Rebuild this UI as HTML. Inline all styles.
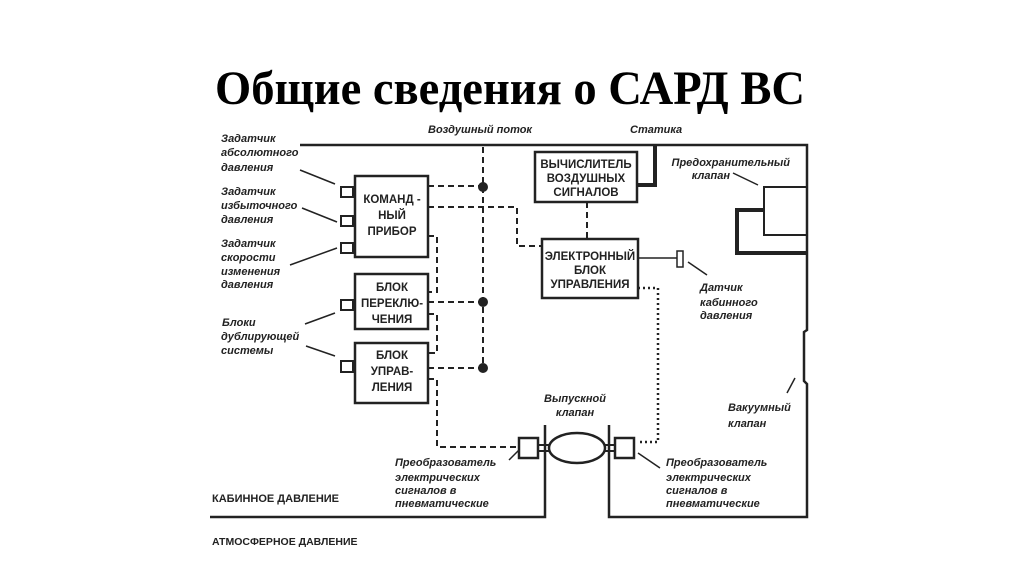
<!DOCTYPE html>
<html><head><meta charset="utf-8"><style>
html,body{margin:0;padding:0;background:#fff;}
svg{display:block;}
.t{font-family:"Liberation Sans",sans-serif;font-weight:bold;font-style:italic;font-size:11px;fill:#222;}
.b{font-family:"Liberation Sans",sans-serif;font-weight:bold;font-size:11.5px;fill:#222;}
</style></head><body>
<svg width="1024" height="574" viewBox="0 0 1024 574" xmlns="http://www.w3.org/2000/svg">
<text x="510" y="104" text-anchor="middle" font-family="Liberation Serif, serif" font-weight="bold" font-size="48" textLength="590" lengthAdjust="spacingAndGlyphs">Общие сведения о САРД ВС</text>
<g stroke="#222" fill="none">
<!-- main lines -->
<polyline points="300,145 807,145 807,330 804,332 804,381 807,384 807,517 609,517 609,425" stroke-width="2.5"/>
<polyline points="210,517 545,517 545,425" stroke-width="2.5"/>
<polyline points="655,145 655,185 637,185" stroke-width="4"/>
<!-- safety valve -->
<rect x="764" y="187" width="43" height="48" stroke-width="2"/>
<polyline points="807,253 737,253 737,210 764,210" stroke-width="4"/>
<!-- boxes -->
<rect x="355" y="176" width="73" height="81" stroke-width="2.5"/>
<rect x="355" y="274" width="73" height="55" stroke-width="2.5"/>
<rect x="355" y="343" width="73" height="60" stroke-width="2.5"/>
<rect x="535" y="152" width="102" height="50" stroke-width="2.5"/>
<rect x="542" y="239" width="96" height="59" stroke-width="2.5"/>
<!-- ports -->
<rect x="341" y="187" width="12" height="10" stroke-width="2"/>
<rect x="341" y="216" width="12" height="10" stroke-width="2"/>
<rect x="341" y="243" width="12" height="10" stroke-width="2"/>
<rect x="341" y="300" width="12" height="10" stroke-width="2"/>
<rect x="341" y="361" width="12" height="11" stroke-width="2"/>
<line x1="353" y1="192" x2="355" y2="192" stroke-width="2"/>
<!-- sensor -->
<line x1="638" y1="258" x2="677" y2="258" stroke-width="1.5"/>
<rect x="677" y="251" width="6" height="16" stroke-width="1.5"/>
<!-- leaders -->
<g stroke-width="1.5">
<line x1="300" y1="170" x2="335" y2="184"/>
<line x1="302" y1="208" x2="337" y2="222"/>
<line x1="290" y1="265" x2="337" y2="248"/>
<line x1="305" y1="324" x2="335" y2="313"/>
<line x1="306" y1="346" x2="335" y2="356"/>
<line x1="733" y1="173" x2="758" y2="185"/>
<line x1="688" y1="262" x2="707" y2="275"/>
<line x1="795" y1="378" x2="787" y2="393"/>
<line x1="509" y1="460" x2="519" y2="450"/>
<line x1="638" y1="453" x2="660" y2="468"/>
</g>
<!-- dashed -->
<g stroke-width="2" stroke-dasharray="6,4">
<line x1="483" y1="147" x2="483" y2="368"/>
<line x1="428" y1="186" x2="483" y2="186"/>
<line x1="428" y1="302" x2="483" y2="302"/>
<line x1="428" y1="368" x2="483" y2="368"/>
<polyline points="428,207 517,207 517,246 542,246"/>
<line x1="587" y1="202" x2="587" y2="239"/>
<polyline points="428,236 437,236 437,292 428,292"/>
<polyline points="428,314 437,314 437,353 428,353"/>
<polyline points="428,379 437,379 437,447 519,447"/>
</g>
<polyline points="638,288 658,288 658,442 637,442" stroke-width="2.5" stroke-dasharray="2,3"/>
<!-- outflow valve -->
<rect x="519" y="438" width="19" height="20" stroke-width="2.5"/>
<rect x="615" y="438" width="19" height="20" stroke-width="2.5"/>
<ellipse cx="577" cy="448" rx="28" ry="15" stroke-width="2.5"/>
<line x1="538" y1="445" x2="549" y2="445" stroke-width="2"/>
<line x1="538" y1="451" x2="549" y2="451" stroke-width="2"/>
<line x1="605" y1="445" x2="615" y2="445" stroke-width="2"/>
<line x1="605" y1="451" x2="615" y2="451" stroke-width="2"/>
</g>
<g fill="#222">
<circle cx="483" cy="187" r="5"/><circle cx="483" cy="302" r="5"/><circle cx="483" cy="368" r="5"/>
</g>
<!-- box labels -->
<g class="b" text-anchor="middle">
<text x="392" y="203">КОМАНД -</text><text x="392" y="219">НЫЙ</text><text x="392" y="235">ПРИБОР</text>
<text x="392" y="291">БЛОК</text><text x="392" y="307">ПЕРЕКЛЮ-</text><text x="392" y="323">ЧЕНИЯ</text>
<text x="392" y="359">БЛОК</text><text x="392" y="375">УПРАВ-</text><text x="392" y="391">ЛЕНИЯ</text>
<text x="586" y="168">ВЫЧИСЛИТЕЛЬ</text><text x="586" y="182">ВОЗДУШНЫХ</text><text x="586" y="196">СИГНАЛОВ</text>
<text x="590" y="260">ЭЛЕКТРОННЫЙ</text><text x="590" y="274">БЛОК</text><text x="590" y="288">УПРАВЛЕНИЯ</text>
</g>
<g class="t">
<text x="221" y="142">Задатчик</text><text x="221" y="156">абсолютного</text><text x="221" y="171">давления</text>
<text x="221" y="195">Задатчик</text><text x="221" y="209">избыточного</text><text x="221" y="223">давления</text>
<text x="221" y="247">Задатчик</text><text x="221" y="261">скорости</text><text x="221" y="275">изменения</text><text x="221" y="288">давления</text>
<text x="222" y="326">Блоки</text><text x="221" y="340">дублирующей</text><text x="221" y="354">системы</text>
<text x="428" y="133">Воздушный поток</text>
<text x="630" y="133">Статика</text>
<text x="790" y="166" text-anchor="end">Предохранительный</text><text x="730" y="179" text-anchor="end">клапан</text>
<text x="700" y="291">Датчик</text><text x="700" y="306">кабинного</text><text x="700" y="319">давления</text>
<text x="728" y="411">Вакуумный</text><text x="728" y="427">клапан</text>
<text x="575" y="402" text-anchor="middle">Выпускной</text><text x="575" y="416" text-anchor="middle">клапан</text>
<text x="395" y="466">Преобразователь</text><text x="395" y="481">электрических</text><text x="395" y="494">сигналов в</text><text x="395" y="507">пневматические</text>
<text x="666" y="466">Преобразователь</text><text x="666" y="481">электрических</text><text x="666" y="494">сигналов в</text><text x="666" y="507">пневматические</text>
</g>
<text x="212" y="502" class="b" style="font-size:11px">КАБИННОЕ ДАВЛЕНИЕ</text>
<text x="212" y="545" class="b" style="font-size:10.5px">АТМОСФЕРНОЕ ДАВЛЕНИЕ</text>
</svg>
</body></html>
